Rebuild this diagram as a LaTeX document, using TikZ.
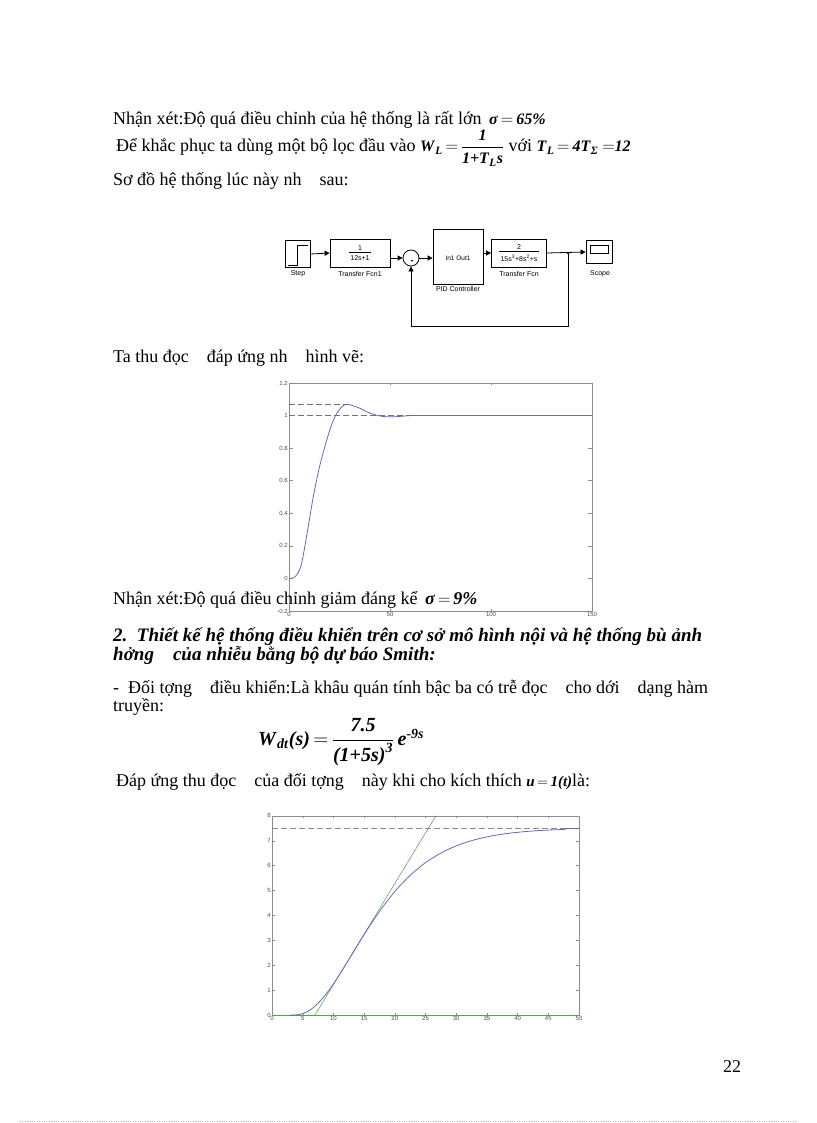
\documentclass[tikz,border=0pt]{standalone}
\usepackage{amsmath}
\usepackage{fontspec}
\setmainfont{Liberation Serif}
\setsansfont{Liberation Sans}
\usetikzlibrary{arrows.meta}
\newcommand{\bi}[1]{\textbf{\textit{#1}}}
\begin{document}
\begin{tikzpicture}[x=1pt,y=-1pt,
  txt/.style={anchor=base west,inner sep=0pt,font=\fontsize{18}{20}\selectfont},
  blk/.style={draw,thick,fill=white,inner sep=0pt},
  lbl/.style={font=\sffamily\fontsize{7}{8}\selectfont,inner sep=0pt,anchor=north},
  sig/.style={thick,-{Triangle[length=5pt,width=5pt]}},
  tick/.style={font=\sffamily\fontsize{6}{7}\selectfont,inner sep=1pt,text=black!70}]
\useasboundingbox (0,0) rectangle (816,1123);
% texts
\node[txt] (t1) at (113,125) {Nhận xét:Độ quá điều chỉnh của hệ thống là rất lớn \,{\fontsize{16}{16}\selectfont$\bi{σ}\,\mathbf{=}\,\bi{65\%}$}};
\node[txt] (t2) at (116,152) {Để khắc phục ta dùng một bộ lọc đầu vào {\fontsize{16}{16}\selectfont$\bi{W}_{\bi{L}}\,\mathbf{=}\,\dfrac{\bi{1}}{\bi{1+T}_{\bi{L}}\bi{s}}$} với {\fontsize{16}{16}\selectfont$\bi{T}_{\bi{L}}\,\mathbf{=}\,\bi{4T}_{\bi{Σ}}\ \mathbf{=}\bi{12}$}};
\node[txt] (t3) at (113,186) {Sơ đồ hệ thống lúc này nh\quad sau:};
% block diagram
\node[blk,minimum width=25pt,minimum height=27pt] (step) at (297.5,254) {};
\draw[thick] (step.south west)++(3,-3) -- ++(10,0) -- ++(0,-20) -- ++(10,0);
\node[blk,minimum width=60pt,minimum height=28pt,font=\sffamily\fontsize{7}{8}\selectfont] (tf1) at (360,253) {\shortstack{1\\[-1pt]\rule{22pt}{0.4pt}\\12s+1}};
\node[draw,thick,circle,minimum size=16pt,inner sep=0pt] (sum) at (411,258) {};
\node[font=\sffamily\bfseries\fontsize{9}{9}\selectfont,inner sep=0pt] (minus) at (412,262) {-};
\node[blk,minimum width=50pt,minimum height=55pt,anchor=north] (pid) at (458,229) {};
\node[font=\sffamily\fontsize{6.5}{8}\selectfont,inner sep=0pt] (pidt) at (458,258) {In1 Out1};
\node[blk,minimum width=55pt,minimum height=28pt,font=\sffamily\fontsize{7}{8}\selectfont] (tf) at (519,253) {\shortstack{2\\[-1pt]\rule{40pt}{0.4pt}\\15s\textsuperscript{3}+8s\textsuperscript{2}+s}};
\node[blk,minimum width=26pt,minimum height=23pt] (scope) at (599,252) {};
\node[draw,thick,minimum width=18pt,minimum height=8pt,inner sep=0pt] (scr) at (599,249) {};
\node[lbl] (ls) at (298,270) {Step};
\node[lbl] (l1) at (360,271) {Transfer Fcn1};
\node[lbl] (lp) at (458,286) {PID Controller};
\node[lbl] (l2) at (519,271) {Transfer Fcn};
\node[lbl] (lsc) at (600,270) {Scope};
\coordinate (br) at (568,253);
\coordinate (b1) at (568,326);
\coordinate (b2) at (411,326);
\draw[sig] (step.east) -- (tf1.west);
\draw[sig] (tf1.east|-sum) -- (sum.west);
\draw[sig] (sum.east) -- (pid.west|-sum);
\draw[sig] (pid.east|-tf) -- (tf.west);
\draw[sig] (tf.east) -- (scope.west);
\draw[thick] (br) -- (b1) -- (b2);
\draw[sig] (b2) -- (sum.south);
\fill (br) circle (1.5pt);
\node[txt] (t4) at (113,362) {Ta thu đọc\quad đáp ứng nh\quad hình vẽ:};
% plot 1
\begin{scope}[shift={(289,578.4)},x=2.02pt,y=162.9pt]
\draw[black!45] (0,-0.2) rectangle (150,1.2);
\foreach \v in {-0.2,0,0.2,0.4,0.6,0.8,1,1.2}{
  \draw[black!45] (0,\v) -- ++(2,0); \draw[black!45] (150,\v) -- ++(-2,0);
  \node[tick,anchor=east] (py\v) at (0,\v) {\v};}
\foreach \v in {0,50,100,150}{
  \draw[black!45] (\v,-0.2) -- ++(0,0.012); \draw[black!45] (\v,1.2) -- ++(0,-0.012);
  \node[tick,anchor=north] (px\v) at (\v,-0.2) {\v};}
\draw[black!55,dash pattern=on 6pt off 3pt] (0,1.07) -- (28,1.07);
\draw[black!55,dash pattern=on 6pt off 3pt] (0,1) -- (60,1);
\draw[black!55] (60,1) -- (150,1);
\draw[blue!60!black!60,thick] plot[smooth] coordinates {(0,0) (3,0.01) (6,0.08) (9,0.28) (12,0.5) (15,0.68) (18,0.82) (21,0.94) (24,1.02) (28,1.068) (34,1.05) (40,1.015) (46,0.995) (52,0.992) (60,1.0)};
\end{scope}
\node[txt] (t5) at (113,604) {Nhận xét:Độ quá điều chỉnh giảm đáng kể \,{\fontsize{18}{18}\selectfont$\bi{σ}\,\mathbf{=}\,\bi{9\%}$}};
% section 2
\node[txt,font=\fontsize{19}{20}\selectfont\bfseries\itshape] (h1) at (113,641) {2.\ \ Thiết kế hệ thống điều khiển trên cơ sở mô hình nội và hệ thống bù ảnh};
\node[txt,font=\fontsize{19}{20}\selectfont\bfseries\itshape] (h2) at (113,660) {hởng\quad của nhiễu bằng bộ dự báo Smith:};
\node[txt] (t6) at (113,693) {-\ \ Đối tợng\quad điều khiển:Là khâu quán tính bậc ba có trễ đọc\quad cho dới\quad dạng hàm};
\node[txt] (t7) at (113,711) {truyền:};
\node[anchor=west,inner sep=0pt,font=\fontsize{20}{22}\selectfont] (eq) at (258,742) {$\bi{W}_{\bi{dt}}\bi{(s)}\,\mathbf{=}\,\dfrac{\bi{7.5}}{\bi{(1+5s)}^{\bi{3}}}\,\bi{e}^{\bi{-9s}}$};
\node[txt] (t8) at (116,786) {Đáp ứng thu đọc\quad của đối tợng\quad này khi cho kích thích {\fontsize{15}{15}\selectfont$\bi{u}\,\mathbf{=}\,\bi{1(t)}$}là:};
% plot 2
\begin{scope}[shift={(272,1015)},x=6.14pt,y=24.9pt]
\draw[black!45] (0,0) rectangle (50,8);
\foreach \v in {0,...,8}{
  \draw[black!45] (0,\v) -- ++(0.5,0); \draw[black!45] (50,\v) -- ++(-0.5,0);
  \node[tick,anchor=east] (qy\v) at (0,\v) {\v};}
\foreach \v in {0,5,...,50}{
  \draw[black!45] (\v,0) -- ++(0,0.08); \draw[black!45] (\v,8) -- ++(0,-0.08);
  \node[tick,anchor=north] (qx\v) at (\v,0) {\v};}
\draw[black!45,thick,dash pattern=on 6pt off 3pt] (0,7.5) -- (50,7.5);
\draw[green!50!black!70,thick] (0,0) -- (50,0);
\draw[green!40!black!80] (7,0) -- (26.7,8);
\draw[blue!60!black!60,thick] plot[domain=3:50,samples=120] (\x,{7.5*(1-exp(-(\x-3)/5)*(1+(\x-3)/5+((\x-3)/5)^2/2))});
\end{scope}
\node[txt] (pg) at (723,1072) {22};
\draw[black!30,dotted] (20,1121) -- (796,1121);
\end{tikzpicture}
\end{document}
